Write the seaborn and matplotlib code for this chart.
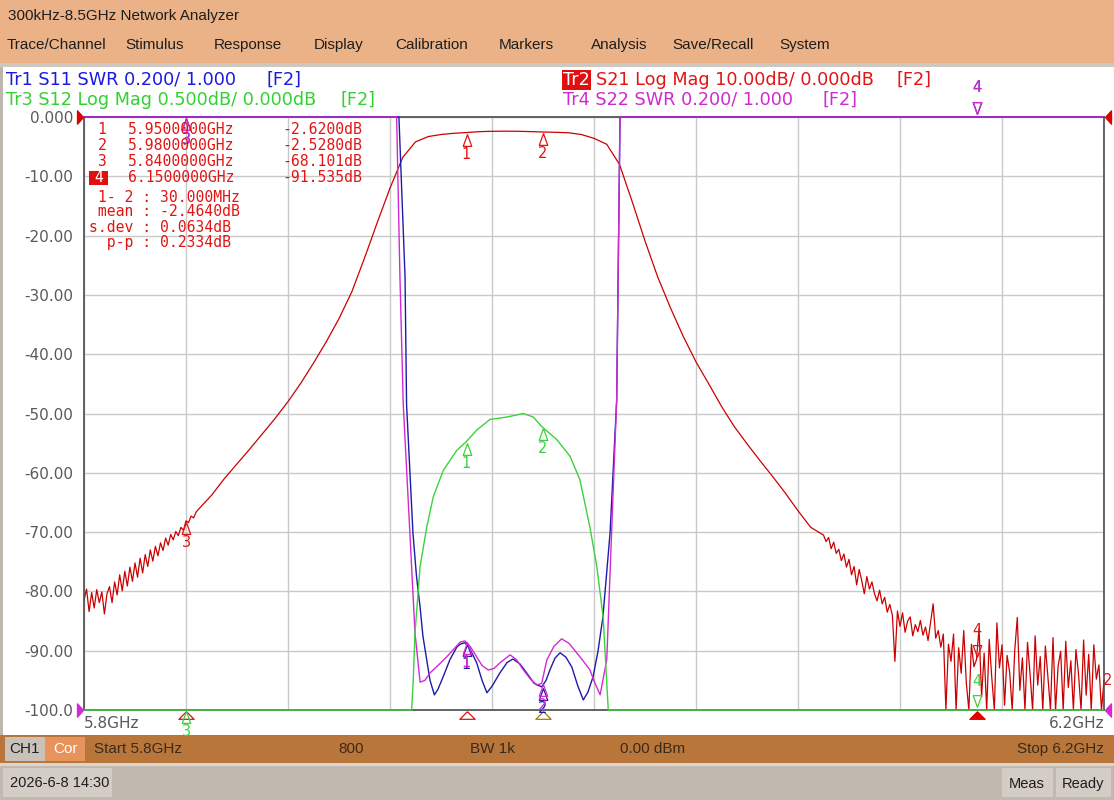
import numpy as np
import pandas as pd
import matplotlib
matplotlib.use("Agg")
import matplotlib.pyplot as plt
import matplotlib.transforms as mtransforms
from matplotlib.patches import Rectangle
import seaborn as sns

# ---------------- data (frequencies in MHz) ----------------
# Tr2  S21 Log Mag, 10 dB/div, ref 0 dB at top
s21_left_freq = np.arange(5800, 5846, 1)
s21_left_db = [-81.5, -79.6, -83.4, -80.2, -82.8, -79.7, -81.9, -80.1, -83.8, -80.4,
               -79.2, -81.9, -78.4, -80.6, -77.2, -79.9, -76.6, -79.1, -75.9, -78.3,
               -75.2, -77.6, -74.4, -76.9, -73.8, -75.8, -73.0, -74.9, -72.4, -74.0,
               -71.8, -73.1, -71.0, -72.2, -70.4, -71.3, -69.9, -70.6, -69.2, -69.7,
               -68.1, -68.4, -67.3, -67.6, -66.6, -66.1]
s21_mid_freq = [5850, 5855, 5860, 5865, 5870, 5875, 5880, 5885, 5890, 5895, 5900, 5905,
                5910, 5915, 5920, 5925, 5930, 5935, 5940, 5945, 5950, 5955, 5960, 5965,
                5970, 5975, 5980, 5985, 5990, 5995, 6000, 6005, 6010, 6015, 6020, 6025,
                6030, 6035, 6040, 6045, 6050, 6055, 6060, 6065, 6070, 6075, 6080, 6085]
s21_mid_db = [-63.8, -61.0, -58.5, -56.0, -53.4, -50.8, -48.0, -44.9, -41.5, -37.9, -34.0, -29.5,
              -23.8, -17.8, -12.0, -6.8, -4.2, -3.3, -2.95, -2.75, -2.62, -2.47, -2.41, -2.39,
              -2.41, -2.46, -2.53, -2.58, -2.66, -2.95, -3.6, -4.6, -8.0, -14.3, -20.9, -27.0,
              -32.2, -37.0, -41.3, -45.0, -48.8, -52.2, -55.1, -57.9, -60.6, -63.4, -66.4, -69.2]
s21_right_freq = np.arange(6090, 6201, 1)
s21_right_db = [-70.5, -71.6, -70.9, -72.8, -71.7, -73.6, -72.9, -74.8, -73.7, -75.9,
                -74.6, -77.2, -75.8, -78.9, -76.3, -78.2, -80.4, -77.5, -79.6, -78.4,
                -80.4, -81.6, -79.8, -82.1, -81.0, -83.5, -82.2, -84.0, -91.8, -83.3,
                -85.9, -83.6, -86.9, -85.0, -84.3, -87.5, -85.6, -86.8, -84.9, -87.4,
                -86.0, -88.3, -85.2, -82.1, -87.9, -86.6, -89.4, -87.2, -100.0, -88.9,
                -91.8, -87.2, -100.0, -89.5, -93.8, -86.6, -95.4, -100.0, -88.9, -92.7,
                -91.5, -86.2, -97.8, -90.4, -100.0, -88.1, -94.6, -100.0, -85.3, -92.9,
                -89.0, -99.2, -90.8, -93.6, -100.0, -89.9, -84.4, -96.7, -91.2, -100.0,
                -88.6, -93.9, -100.0, -87.5, -95.8, -91.0, -100.0, -89.2, -94.4, -100.0,
                -87.8, -100.0, -92.6, -90.1, -100.0, -88.4, -96.2, -91.7, -100.0, -89.8,
                -93.9, -100.0, -88.2, -97.5, -90.6, -100.0, -89.0, -94.8, -92.4, -100.0, -95.0]

# Tr1  S11 SWR, 0.2/div, ref 1.000 at bottom (top of scale = 3.0)
s11_freq = [5800, 5923.5, 5925.9, 5926.5, 5929.0, 5930.4, 5931.8, 5932.9, 5934.4, 5935.7,
            5937.4, 5938.8, 5940.8, 5943.5, 5946.2, 5947.5, 5949.4, 5951.4, 5954.0, 5956.1,
            5958.0, 5960.0, 5963.1, 5965.9, 5968.2, 5971.0, 5973.6, 5976.5, 5979.5, 5981.2,
            5982.7, 5984.7, 5986.7, 5989.0, 5991.3, 5993.7, 5995.8, 5997.6, 5999.6, 6001.6,
            6003.5, 6006.3, 6008.9, 6010.2, 6200]
s11_swr = [3.0, 3.0, 2.46, 2.03, 1.597, 1.45, 1.347, 1.25, 1.169, 1.10,
           1.051, 1.07, 1.111, 1.17, 1.212, 1.222, 1.227, 1.205, 1.159, 1.10,
           1.058, 1.08, 1.125, 1.16, 1.172, 1.155, 1.125, 1.09, 1.078, 1.10,
           1.135, 1.175, 1.193, 1.178, 1.145, 1.08, 1.034, 1.06, 1.111, 1.20,
           1.314, 1.597, 2.046, 3.0, 3.0]

# Tr4  S22 SWR, 0.2/div, ref 1.000 at bottom
s22_freq = [5800, 5922.6, 5923.9, 5925.2, 5927.8, 5929.8, 5931.8, 5933.7, 5935.7, 5938.8,
            5942.2, 5945.0, 5947.5, 5949.4, 5951.4, 5954.0, 5956.1, 5958.5, 5960.8, 5963.1,
            5967.1, 5969.6, 5972.3, 5975.0, 5977.5, 5979.5, 5981.5, 5984.3, 5987.3, 5990.2,
            5993.2, 5995.8, 5998.4, 6000.4, 6002.4, 6005.0, 6006.9, 6008.9, 6010.2, 6200]
s22_swr = [3.0, 3.0, 2.46, 2.03, 1.597, 1.26, 1.094, 1.10, 1.125, 1.15,
           1.179, 1.205, 1.229, 1.233, 1.215, 1.179, 1.15, 1.135, 1.14, 1.159,
           1.186, 1.17, 1.135, 1.105, 1.084, 1.09, 1.169, 1.215, 1.240, 1.225,
           1.193, 1.165, 1.135, 1.09, 1.051, 1.169, 1.597, 2.046, 3.0, 3.0]

# Tr3  S12 Log Mag, 0.5 dB/div, ref 0 dB at top (bottom = -5 dB)
s12_freq = [5800, 5928.5, 5929.1, 5929.8, 5931.8, 5934.4, 5937.0, 5940.9, 5946.2, 5949.8,
            5954.0, 5959.2, 5965.8, 5972.3, 5976.2, 5979.5, 5985.4, 5990.6, 5994.5, 5998.4,
            6001.1, 6003.6, 6005.0, 6005.6, 6200]
s12_db = [-5.0, -5.0, -4.75, -4.35, -3.79, -3.46, -3.2, -2.98, -2.81, -2.74,
          -2.64, -2.55, -2.53, -2.50, -2.53, -2.61, -2.72, -2.86, -3.06, -3.46,
          -3.79, -4.22, -4.77, -5.0, -5.0]

marker_freq = [5950, 5980, 5840, 6150]
marker_num = ["1", "2", "3", "4"]
marker_s21 = [-2.62, -2.528, -68.101, -91.535]
marker_s12 = [-2.74, -2.61, -5.0, -5.0]
marker_s11 = [1.227, 1.078, 3.0, 3.0]
marker_s22 = [1.233, 1.09, 3.0, 3.0]
marker_active = "4"
marker_table_freq = ["5.9500000GHz", "5.9800000GHz", "5.8400000GHz", "6.1500000GHz"]
marker_table_val = ["-2.6200dB", "-2.5280dB", "-68.101dB", "-91.535dB"]
stats_lines = [" 1- 2 : 30.000MHz", " mean : -2.4640dB", "s.dev : 0.0634dB", "  p-p : 0.2334dB"]

y_ticks = list(range(-100, 1, 10))
y_tick_labels = ["-100.0", "-90.00", "-80.00", "-70.00", "-60.00", "-50.00",
                 "-40.00", "-30.00", "-20.00", "-10.00", "0.000"]
x_ticks = list(range(5800, 6201, 40))

title_text = "300kHz-8.5GHz Network Analyzer"
menu_items = ["Trace/Channel", "Stimulus", "Response", "Display", "Calibration",
              "Markers", "Analysis", "Save/Recall", "System"]

# ---------------- style ----------------
sns.set_style("white")
plt.rcParams["font.family"] = ["DejaVu Sans"]
plt.rcParams["axes.unicode_minus"] = False

RED_T, BLUE_T, GREEN_T, MAG_T = "#CC0000", "#1C1CA8", "#3CD23C", "#D22AD2"
RED_H, BLUE_H, GREEN_H, MAG_H = "#E31414", "#1A1AE0", "#33D133", "#CF2ACF"
ORANGE = "#EBB287"

W, H = 1114, 800
fig = plt.figure(figsize=(W / 100, H / 100), dpi=100)
fig.patch.set_facecolor("white")


def frect(x0, y0, x1, y1, color, z=0):
    fig.add_artist(Rectangle((x0 / W, 1 - y1 / H), (x1 - x0) / W, (y1 - y0) / H,
                             transform=fig.transFigure, fc=color, ec="none", zorder=z))


def ftext(x, y, s, **kw):
    kw.setdefault("va", "center")
    fig.text(x / W, 1 - y / H, s, **kw)


# window chrome
frect(0, 0, W, 63, ORANGE)
frect(0, 63, W, 67, "#CFC8C0")
frect(0, 67, 3, 735, "#BDB6AE")
frect(0, 735, W, 763, "#B8763B")
frect(0, 763, W, 766, "#DCD5CD")
frect(0, 766, W, H, "#C1B9AF")
frect(3, 768, 112, 797, "#D3CDC6")
frect(1002, 768, 1053, 797, "#D3CDC6")
frect(1056, 768, 1111, 797, "#D3CDC6")
frect(5, 737, 45, 761, "#C9C2BA")
frect(45, 737, 85, 761, "#E8935B")

UI = "Liberation Sans"
ftext(8, 16, title_text, fontsize=11, family=UI, color="#1E1E1E")
menu_x = [7, 125, 214, 314, 395, 499, 591, 672, 779]
for mx, item in zip(menu_x, menu_items):
    ftext(mx, 45, item, fontsize=11, family=UI, color="#1E1E1E")

ftext(25, 749, "CH1", fontsize=11, family=UI, color="#202020", ha="center")
ftext(65, 749, "Cor", fontsize=11, family=UI, color="white", ha="center")
ftext(94, 749, "Start 5.8GHz", fontsize=11, family=UI, color="#3B2A1A")
ftext(351, 749, "800", fontsize=11, family=UI, color="#3B2A1A", ha="center")
ftext(470, 749, "BW 1k", fontsize=11, family=UI, color="#3B2A1A")
ftext(620, 749, "0.00 dBm", fontsize=11, family=UI, color="#3B2A1A")
ftext(1104, 749, "Stop 6.2GHz", fontsize=11, family=UI, color="#3B2A1A", ha="right")
ftext(10, 783, "2026-6-8 14:30", fontsize=10.5, family=UI, color="#1E1E1E")
ftext(1027, 784, "Meas", fontsize=10.5, family=UI, color="#1E1E1E", ha="center")
ftext(1083, 784, "Ready", fontsize=10.5, family=UI, color="#1E1E1E", ha="center")

# trace header lines
HS = 12.7
ftext(6, 80, "Tr1 S11 SWR 0.200/ 1.000", fontsize=HS, color=BLUE_H)
ftext(266, 80, "[F2]", fontsize=HS, color=BLUE_H)
ftext(6, 100, "Tr3 S12 Log Mag 0.500dB/ 0.000dB", fontsize=HS, color=GREEN_H)
ftext(341, 100, "[F2]", fontsize=HS, color=GREEN_H)
ftext(563, 80, "Tr2", fontsize=HS, color="white",
      bbox=dict(fc="#E01010", ec="none", pad=0.6))
ftext(596, 80, "S21 Log Mag 10.00dB/ 0.000dB", fontsize=HS, color=RED_H)
ftext(897, 80, "[F2]", fontsize=HS, color=RED_H)
ftext(563, 100, "Tr4 S22 SWR 0.200/ 1.000", fontsize=HS, color=MAG_H)
ftext(823, 100, "[F2]", fontsize=HS, color=MAG_H)

# ---------------- plot area ----------------
L, R, T, B = 84, 1104, 117, 710
ax = fig.add_axes([L / W, 1 - B / H, (R - L) / W, (B - T) / H])
ax.set_facecolor("white")

df21 = pd.DataFrame({
    "f": np.concatenate([s21_left_freq, s21_mid_freq, s21_right_freq]).astype(float),
    "v": np.clip(np.concatenate([s21_left_db, s21_mid_db, s21_right_db]), -100, 0)})
sns.lineplot(data=df21, x="f", y="v", ax=ax, color=RED_T, lw=0.9,
             estimator=None, sort=False, legend=False)

ax.set_xlim(5800, 6200)
ax.set_ylim(-100, 0)
ax.set_xticks(x_ticks)
ax.set_yticks(y_ticks)
ax.set_yticklabels(y_tick_labels)
ax.tick_params(axis="x", length=0, labelbottom=False)
ax.tick_params(axis="y", length=0, pad=8, labelsize=11, labelcolor="#5A5A5A")
ax.grid(True, color="#C9C9C9", lw=1.0)
ax.set_axisbelow(True)
ax.set_xlabel("")
ax.set_ylabel("")
for name, sp in ax.spines.items():
    sp.set_visible(True)
    sp.set_color("#4A4A4A")
    sp.set_linewidth(1.2)

ax_swr = ax.twinx()
ax_s12 = ax.twinx()
for a in (ax_swr, ax_s12):
    for sp in a.spines.values():
        sp.set_visible(False)
    a.tick_params(right=False, labelright=False, left=False, labelleft=False)
    a.grid(False)

df11 = pd.DataFrame({"f": s11_freq, "v": np.clip(s11_swr, 1.0, 3.0)})
df22 = pd.DataFrame({"f": s22_freq, "v": np.clip(s22_swr, 1.0, 3.0)})
df12 = pd.DataFrame({"f": s12_freq, "v": np.clip(s12_db, -5.0, 0.0)})
sns.lineplot(data=df11, x="f", y="v", ax=ax_swr, color=BLUE_T, lw=1.0,
             estimator=None, sort=False, legend=False)
sns.lineplot(data=df22, x="f", y="v", ax=ax_swr, color=MAG_T, lw=1.0,
             estimator=None, sort=False, legend=False)
sns.lineplot(data=df12, x="f", y="v", ax=ax_s12, color=GREEN_T, lw=1.0,
             estimator=None, sort=False, legend=False)
for a in (ax, ax_swr, ax_s12):
    for ln in a.lines:
        ln.set_clip_on(False)
ax_swr.set_ylim(1.0, 3.0)
ax_s12.set_ylim(-5.0, 0.0)
ax_swr.set_xlim(5800, 6200)
for a in (ax_swr, ax_s12):
    a.set_xlabel("")
    a.set_ylabel("")
    a.set_yticks([])

TRI_UP = [(0, 1), (-0.72, -1), (0.72, -1), (0, 1)]
TRI_DN = [(0, -1), (-0.72, 1), (0.72, 1), (0, -1)]
FLAT_UP = [(0, 0.5), (-1, -0.5), (1, -0.5), (0, 0.5)]
REF_R = [(0.45, 0), (-0.45, 1), (-0.45, -1), (0.45, 0)]
REF_L = [(-0.45, 0), (0.45, 1), (0.45, -1), (-0.45, 0)]
MS = 8.5


def off(a, dx, dy):
    return mtransforms.offset_copy(a.transData, fig=fig, x=dx, y=dy, units="dots")


def draw_markers(a, values, color, zo):
    for f, v, n in zip(marker_freq, values, marker_num):
        if n == marker_active:
            a.plot([f], [v], marker=TRI_DN, ms=MS, mfc="none", mec=color, mew=0.9,
                   transform=off(a, 0, 9), clip_on=False, zorder=zo)
            a.annotate(n, xy=(f, v), xytext=(0, 29), textcoords="offset pixels",
                       ha="center", va="center", color=color, fontsize=10.5,
                       annotation_clip=False, zorder=zo)
        else:
            a.plot([f], [v], marker=TRI_UP, ms=MS, mfc="none", mec=color, mew=0.9,
                   transform=off(a, 0, -7), clip_on=False, zorder=zo)
            a.annotate(n, xy=(f, v), xytext=(0, -22), textcoords="offset pixels",
                       ha="center", va="center", color=color, fontsize=10.5,
                       annotation_clip=False, zorder=zo)


draw_markers(ax, marker_s21, RED_H, 5)
draw_markers(ax_swr, marker_s11, BLUE_T, 5)
draw_markers(ax_swr, marker_s22, MAG_T, 6)
draw_markers(ax_s12, marker_s12, GREEN_T, 5)

# stimulus indicators under the x axis
ind_colors = ["#D81818", "#A08000", "#D81818", "#E00000"]
for f, n, c in zip(marker_freq, marker_num, ind_colors):
    filled = (n == marker_active)
    ax.plot([f], [-100], marker=FLAT_UP, ms=11, mfc=c if filled else "none", mec=c,
            mew=0.9, transform=off(ax, 0, -5), clip_on=False, zorder=6)

# reference level indicators and trace end label
ax.plot([5800], [0], marker=REF_R, ms=9.5, color="#E00000", transform=off(ax, -4, 0), clip_on=False)
ax.plot([6200], [0], marker=REF_L, ms=9.5, color="#E00000", transform=off(ax, 4, 0), clip_on=False)
ax_swr.plot([5800], [1.0], marker=REF_R, ms=9.5, color=MAG_T, transform=off(ax_swr, -4, 0), clip_on=False)
ax_swr.plot([6200], [1.0], marker=REF_L, ms=9.5, color=MAG_T, transform=off(ax_swr, 4, 0), clip_on=False)
ax.annotate("2", xy=(6200, df21["v"].iloc[-1]), xytext=(-1, 0), textcoords="offset pixels",
            ha="left", va="center", color=RED_H, fontsize=10.5, annotation_clip=False)

# x range labels
ax.text(0.0, -0.022, "5.8GHz", transform=ax.transAxes, ha="left", va="center",
        fontsize=11, color="#5A5A5A")
ax.text(1.0, -0.022, "6.2GHz", transform=ax.transAxes, ha="right", va="center",
        fontsize=11, color="#5A5A5A")

# marker table
MONO = "DejaVu Sans Mono"
TS = 10.6
rows_y = [129, 145, 161, 177.5]
for yy, n, fq, val in zip(rows_y, marker_num, marker_table_freq, marker_table_val):
    if n == marker_active:
        frect(89, 171, 108, 185, "#E01010", z=4)
        ftext(98.5, yy, n, fontsize=TS, family=MONO, color="white", ha="center", zorder=5)
    else:
        ftext(102, yy, n, fontsize=TS, family=MONO, color=RED_H, ha="center")
    ftext(128, yy, fq, fontsize=TS, family=MONO, color=RED_H)
    ftext(362, yy, val, fontsize=TS, family=MONO, color=RED_H, ha="right")
for yy, s in zip([197, 212, 227, 242], stats_lines):
    ftext(89, yy, s, fontsize=TS, family=MONO, color=RED_H)

fig.savefig("out.png", dpi=100)
